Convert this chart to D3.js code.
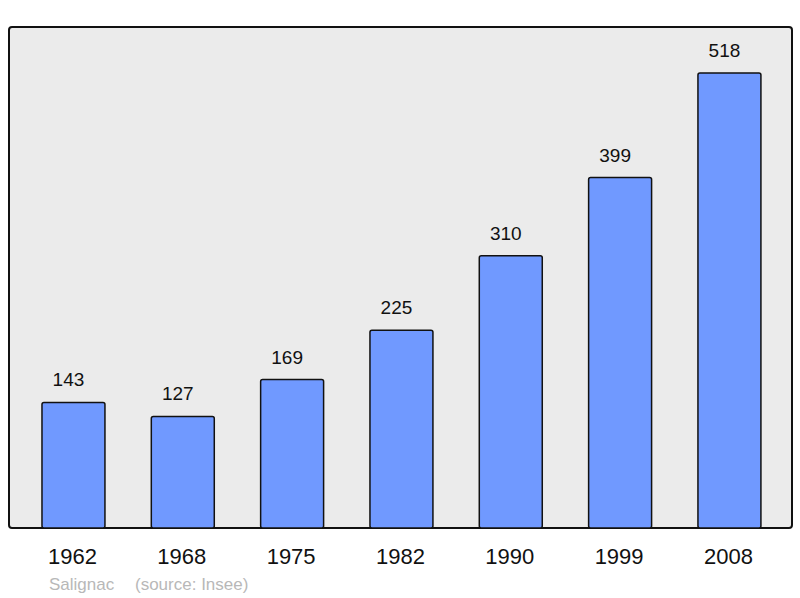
<!DOCTYPE html>
<html>
<head>
<meta charset="utf-8">
<script src="https://cdn.jsdelivr.net/npm/d3@7"></script>
<style>
  body { margin: 0; background: #fff; }
  text { font-family: "Liberation Sans", Arial, sans-serif; }
</style>
</head>
<body>
<div id="chart"></div>
<script>
// --- Data ---
const years = ["1962", "1968", "1975", "1982", "1990", "1999", "2008"];
const population = [143, 127, 169, 225, 310, 399, 518];
const footerName = "Salignac";
const footerSource = "(source: Insee)";

const totalWidth = 800;
const totalHeight = 598;

// Frame of the plot area
const frame = { left: 9, top: 27, right: 792, bottom: 528 };

const svg = d3
  .select("#chart")
  .append("svg")
  .attr("width", totalWidth)
  .attr("height", totalHeight);

svg
  .append("rect")
  .attr("x", frame.left)
  .attr("y", frame.top)
  .attr("width", frame.right - frame.left)
  .attr("height", frame.bottom - frame.top)
  .attr("rx", 3)
  .attr("fill", "#ebebeb")
  .attr("stroke", "#111")
  .attr("stroke-width", 2);

// --- Scales ---
const x = d3
  .scaleBand()
  .domain(years)
  .range([18.8, 784.1])
  .paddingInner(0.424)
  .paddingOuter(0.212);

const y = d3.scaleLinear().domain([0, 518]).range([frame.bottom, 73]);

// --- Bars ---
svg
  .selectAll(".bar")
  .data(years)
  .join("rect")
  .attr("class", "bar")
  .attr("x", (d) => x(d))
  .attr("y", (d, i) => y(population[i]))
  .attr("width", x.bandwidth())
  .attr("height", (d, i) => frame.bottom - y(population[i]))
  .attr("rx", 2)
  .attr("fill", "#7099ff")
  .attr("stroke", "#111")
  .attr("stroke-width", 1.5);

// Value labels above bars (sit slightly left of the bar centre)
svg
  .selectAll(".value")
  .data(years)
  .join("text")
  .attr("class", "value")
  .attr("x", (d) => x(d) + x.bandwidth() / 2 - 5)
  .attr("y", (d, i) => y(population[i]) - 16)
  .attr("text-anchor", "middle")
  .attr("font-size", "19px")
  .attr("fill", "#111")
  .text((d, i) => population[i]);

// --- X axis (labels only) ---
const xAxis = svg
  .append("g")
  .attr("transform", `translate(0, ${frame.bottom})`)
  .call(d3.axisBottom(x).tickSize(0).tickPadding(0));

xAxis.select(".domain").remove();
xAxis
  .selectAll(".tick text")
  .attr("x", -1)
  .attr("y", 36)
  .attr("dy", null)
  .attr("font-size", "22px")
  .attr("font-family", "'Liberation Sans', Arial, sans-serif")
  .attr("fill", "#111");

// --- Footer ---
svg
  .append("text")
  .attr("x", 49)
  .attr("y", 590)
  .attr("font-size", "17px")
  .attr("fill", "#b8b8b8")
  .text(footerName);

svg
  .append("text")
  .attr("x", 135)
  .attr("y", 590)
  .attr("font-size", "17px")
  .attr("fill", "#b8b8b8")
  .text(footerSource);
</script>
</body>
</html>
